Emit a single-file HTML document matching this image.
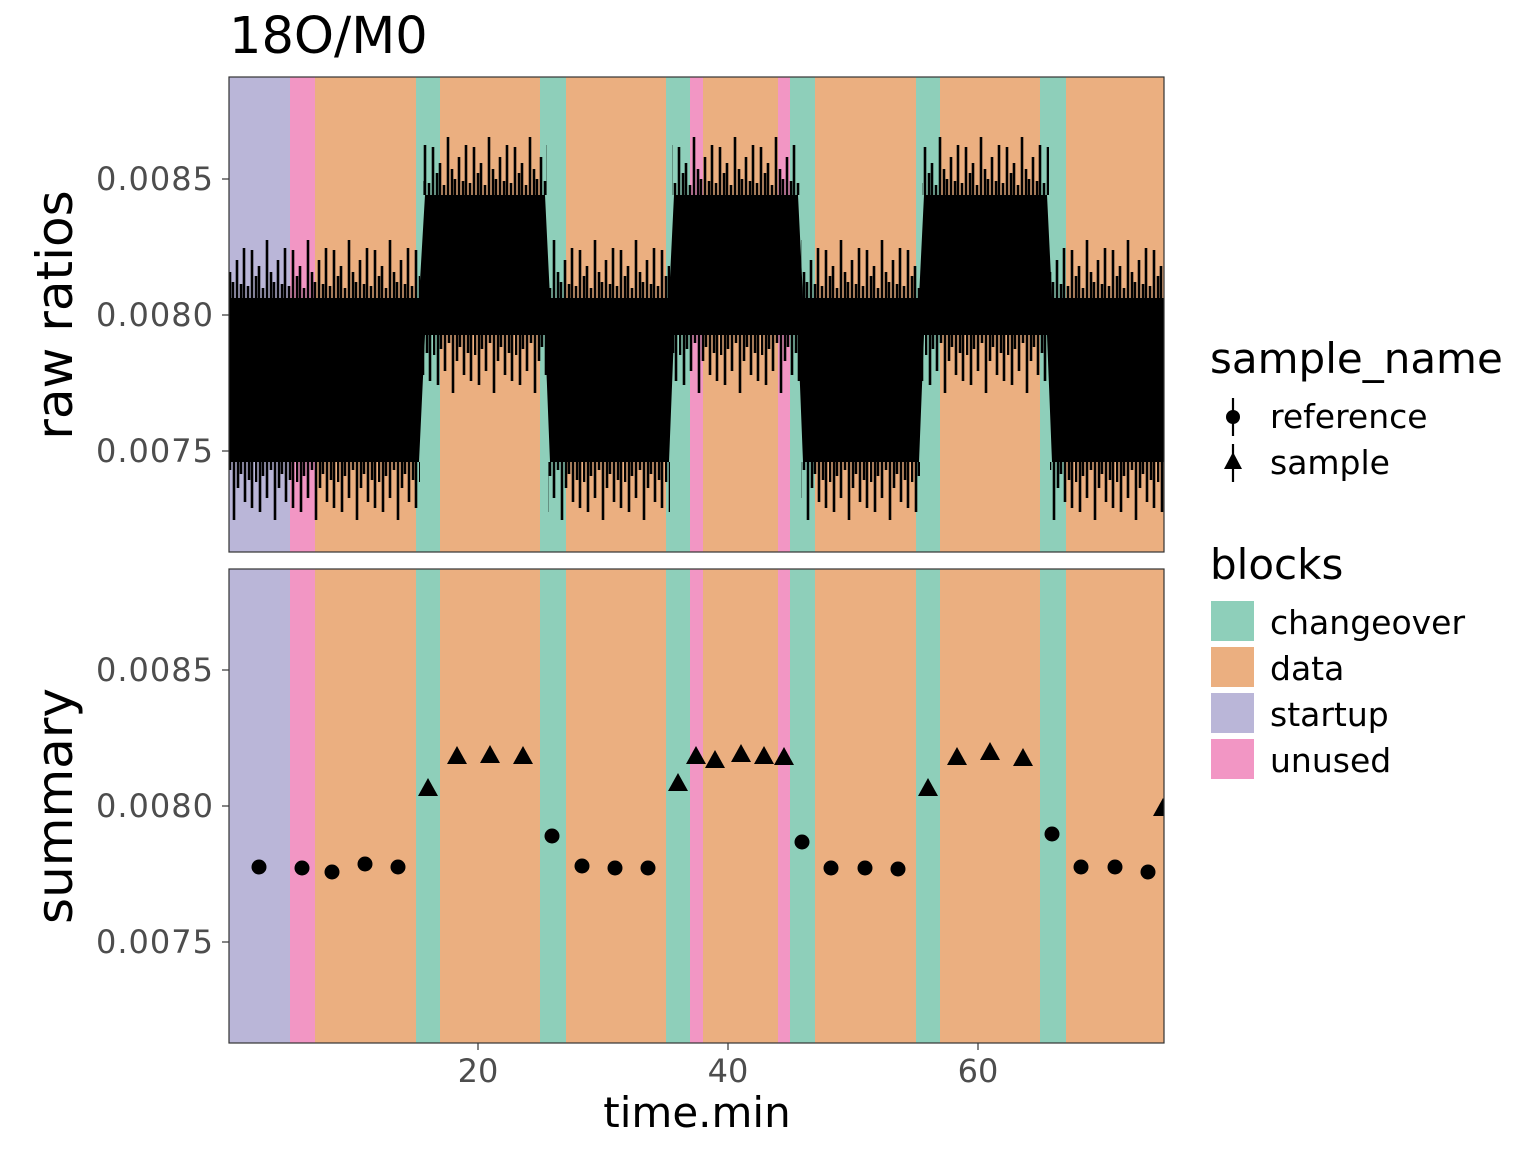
<!DOCTYPE html>
<html><head><meta charset="utf-8"><style>
html,body{margin:0;padding:0;background:#fff;}
svg{display:block;font-family:"DejaVu Sans","Liberation Sans",sans-serif;}
</style></head><body>
<svg width="1536" height="1152" xmlns="http://www.w3.org/2000/svg">
<rect width="1536" height="1152" fill="#fff"/>
<defs>
<clipPath id="c1"><rect x="229" y="77" width="935" height="475"/></clipPath>
<clipPath id="c2"><rect x="229" y="569" width="935" height="474"/></clipPath>
<g id="tu" stroke="#000" stroke-width="2.6">
<line x1="2" y1="80" x2="2" y2="68"/><line x1="6" y1="80" x2="6" y2="32"/><line x1="10" y1="80" x2="10" y2="58"/><line x1="13" y1="80" x2="13" y2="48"/><line x1="17" y1="80" x2="17" y2="70"/><line x1="21" y1="80" x2="21" y2="22"/><line x1="25" y1="80" x2="25" y2="54"/><line x1="28" y1="80" x2="28" y2="64"/><line x1="32" y1="80" x2="32" y2="42"/><line x1="36" y1="80" x2="36" y2="66"/><line x1="39" y1="80" x2="39" y2="30"/>
</g>
<g id="td" stroke="#000" stroke-width="2.6">
<line x1="1" y1="0" x2="1" y2="20"/><line x1="5" y1="0" x2="5" y2="50"/><line x1="8" y1="0" x2="8" y2="14"/><line x1="12" y1="0" x2="12" y2="36"/><line x1="16" y1="0" x2="16" y2="8"/><line x1="20" y1="0" x2="20" y2="58"/><line x1="24" y1="0" x2="24" y2="26"/><line x1="27" y1="0" x2="27" y2="12"/><line x1="31" y1="0" x2="31" y2="40"/><line x1="35" y1="0" x2="35" y2="18"/><line x1="38" y1="0" x2="38" y2="46"/>
</g>
<pattern id="pRu" patternUnits="userSpaceOnUse" x="0" y="218" width="41" height="80"><use href="#tu"/></pattern>
<pattern id="pSu" patternUnits="userSpaceOnUse" x="17" y="115" width="41" height="80"><use href="#tu"/></pattern>
<pattern id="pRd" patternUnits="userSpaceOnUse" x="9" y="462" width="41" height="80"><use href="#td"/></pattern>
<pattern id="pSd" patternUnits="userSpaceOnUse" x="23" y="335" width="41" height="80"><use href="#td"/></pattern>
</defs>
<g>
<rect x="229" y="77" width="61" height="475" fill="#BAB6D8"/>
<rect x="290" y="77" width="25" height="475" fill="#F296C4"/>
<rect x="315" y="77" width="101" height="475" fill="#EBAF80"/>
<rect x="416" y="77" width="24" height="475" fill="#8ECFBA"/>
<rect x="440" y="77" width="100" height="475" fill="#EBAF80"/>
<rect x="540" y="77" width="26" height="475" fill="#8ECFBA"/>
<rect x="566" y="77" width="100" height="475" fill="#EBAF80"/>
<rect x="666" y="77" width="24" height="475" fill="#8ECFBA"/>
<rect x="690" y="77" width="13" height="475" fill="#F296C4"/>
<rect x="703" y="77" width="75" height="475" fill="#EBAF80"/>
<rect x="778" y="77" width="12" height="475" fill="#F296C4"/>
<rect x="790" y="77" width="25" height="475" fill="#8ECFBA"/>
<rect x="815" y="77" width="101" height="475" fill="#EBAF80"/>
<rect x="916" y="77" width="24" height="475" fill="#8ECFBA"/>
<rect x="940" y="77" width="100" height="475" fill="#EBAF80"/>
<rect x="1040" y="77" width="26" height="475" fill="#8ECFBA"/>
<rect x="1066" y="77" width="98" height="475" fill="#EBAF80"/>
</g>
<g>
<rect x="229" y="569" width="61" height="474" fill="#BAB6D8"/>
<rect x="290" y="569" width="25" height="474" fill="#F296C4"/>
<rect x="315" y="569" width="101" height="474" fill="#EBAF80"/>
<rect x="416" y="569" width="24" height="474" fill="#8ECFBA"/>
<rect x="440" y="569" width="100" height="474" fill="#EBAF80"/>
<rect x="540" y="569" width="26" height="474" fill="#8ECFBA"/>
<rect x="566" y="569" width="100" height="474" fill="#EBAF80"/>
<rect x="666" y="569" width="24" height="474" fill="#8ECFBA"/>
<rect x="690" y="569" width="13" height="474" fill="#F296C4"/>
<rect x="703" y="569" width="75" height="474" fill="#EBAF80"/>
<rect x="778" y="569" width="12" height="474" fill="#F296C4"/>
<rect x="790" y="569" width="25" height="474" fill="#8ECFBA"/>
<rect x="815" y="569" width="101" height="474" fill="#EBAF80"/>
<rect x="916" y="569" width="24" height="474" fill="#8ECFBA"/>
<rect x="940" y="569" width="100" height="474" fill="#EBAF80"/>
<rect x="1040" y="569" width="26" height="474" fill="#8ECFBA"/>
<rect x="1066" y="569" width="98" height="474" fill="#EBAF80"/>
</g>
<g clip-path="url(#c1)">
<polygon fill="#000" points="229,298 419,298 425,195 545,195 550,298 669,298 674,195 798,195 803,298 919,298 924,195 1047,195 1052,298 1164,298 1164,462 1052,462 1047,335 924,335 919,462 803,462 798,335 674,335 669,462 550,462 545,335 425,335 419,462 229,462"/>
<rect x="229" y="218" width="191" height="80" fill="url(#pRu)"/>
<rect x="548" y="218" width="122" height="80" fill="url(#pRu)"/>
<rect x="801" y="218" width="119" height="80" fill="url(#pRu)"/>
<rect x="1050" y="218" width="114" height="80" fill="url(#pRu)"/>
<rect x="423" y="115" width="124" height="80" fill="url(#pSu)"/>
<rect x="672" y="115" width="128" height="80" fill="url(#pSu)"/>
<rect x="922" y="115" width="127" height="80" fill="url(#pSu)"/>
<rect x="229" y="462" width="191" height="80" fill="url(#pRd)"/>
<rect x="548" y="462" width="122" height="80" fill="url(#pRd)"/>
<rect x="801" y="462" width="119" height="80" fill="url(#pRd)"/>
<rect x="1050" y="462" width="114" height="80" fill="url(#pRd)"/>
<rect x="423" y="335" width="124" height="80" fill="url(#pSd)"/>
<rect x="672" y="335" width="128" height="80" fill="url(#pSd)"/>
<rect x="922" y="335" width="127" height="80" fill="url(#pSd)"/>
</g>
<g clip-path="url(#c2)" fill="#000">
<circle cx="259" cy="867" r="7.5"/><circle cx="302" cy="868" r="7.5"/><circle cx="332" cy="872" r="7.5"/><circle cx="365" cy="864" r="7.5"/><circle cx="398" cy="867" r="7.5"/>
<polygon points="428,778 438,796 418,796"/><polygon points="457,746 467,764 447,764"/><polygon points="490,745 500,763 480,763"/><polygon points="523,746 533,764 513,764"/>
<circle cx="552" cy="836" r="7.5"/><circle cx="582" cy="866" r="7.5"/><circle cx="615" cy="868" r="7.5"/><circle cx="648" cy="868" r="7.5"/>
<polygon points="678,773 688,791 668,791"/><polygon points="696,746 706,764 686,764"/><polygon points="715,750 725,768 705,768"/><polygon points="741,744 751,762 731,762"/><polygon points="764,746 774,764 754,764"/><polygon points="784,747 794,765 774,765"/>
<circle cx="802" cy="842" r="7.5"/><circle cx="831" cy="868" r="7.5"/><circle cx="865" cy="868" r="7.5"/><circle cx="898" cy="869" r="7.5"/>
<polygon points="928,778 938,796 918,796"/><polygon points="957,747 967,765 947,765"/><polygon points="990,742 1000,760 980,760"/><polygon points="1023,748 1033,766 1013,766"/>
<circle cx="1052" cy="834" r="7.5"/><circle cx="1081" cy="867" r="7.5"/><circle cx="1115" cy="867" r="7.5"/><circle cx="1148" cy="872" r="7.5"/>
<polygon points="1163,798 1173,816 1153,816"/>
</g>
<rect x="229" y="77" width="935" height="475" fill="none" stroke="#333" stroke-width="1.2"/>
<rect x="229" y="569" width="935" height="474" fill="none" stroke="#333" stroke-width="1.2"/>
<text x="229" y="53" font-size="51" fill="#000">18O/M0</text>
<g font-size="32" fill="#4d4d4d" text-anchor="end">
<text x="213" y="190" textLength="117">0.0085</text><text x="213" y="326" textLength="117">0.0080</text><text x="213" y="462" textLength="117">0.0075</text>
<text x="213" y="681" textLength="117">0.0085</text><text x="213" y="817" textLength="117">0.0080</text><text x="213" y="953" textLength="117">0.0075</text>
</g>
<g stroke="#333" stroke-width="1.2">
<line x1="222" y1="179" x2="229" y2="179"/><line x1="222" y1="315" x2="229" y2="315"/><line x1="222" y1="451" x2="229" y2="451"/>
<line x1="222" y1="670" x2="229" y2="670"/><line x1="222" y1="806" x2="229" y2="806"/><line x1="222" y1="942" x2="229" y2="942"/>
<line x1="478" y1="1043" x2="478" y2="1050"/><line x1="728" y1="1043" x2="728" y2="1050"/><line x1="978" y1="1043" x2="978" y2="1050"/>
</g>
<g font-size="32" fill="#4d4d4d" text-anchor="middle">
<text x="478" y="1082">20</text><text x="728" y="1082">40</text><text x="978" y="1082">60</text>
</g>
<text x="697" y="1127" font-size="42" text-anchor="middle">time.min</text>
<text transform="translate(72,315) rotate(-90)" font-size="50" text-anchor="middle">raw ratios</text>
<text transform="translate(72,806) rotate(-90)" font-size="50" text-anchor="middle">summary</text>
<text x="1210" y="373" font-size="42">sample_name</text>
<line x1="1233" y1="398" x2="1233" y2="436" stroke="#000" stroke-width="2.2"/>
<circle cx="1233" cy="417" r="7" fill="#000"/>
<line x1="1233" y1="444" x2="1233" y2="482" stroke="#000" stroke-width="2.2"/>
<polygon points="1233,452 1242,469 1224,469" fill="#000"/>
<g font-size="33"><text x="1270" y="428">reference</text><text x="1270" y="474">sample</text></g>
<text x="1210" y="579" font-size="42">blocks</text>
<rect x="1211" y="601" width="43" height="40" fill="#8ECFBA"/>
<rect x="1211" y="647" width="43" height="40" fill="#EBAF80"/>
<rect x="1211" y="693" width="43" height="40" fill="#BAB6D8"/>
<rect x="1211" y="739" width="43" height="40" fill="#F296C4"/>
<g font-size="33"><text x="1270" y="634">changeover</text><text x="1270" y="680">data</text><text x="1270" y="726">startup</text><text x="1270" y="772">unused</text></g>
</svg>
</body></html>
